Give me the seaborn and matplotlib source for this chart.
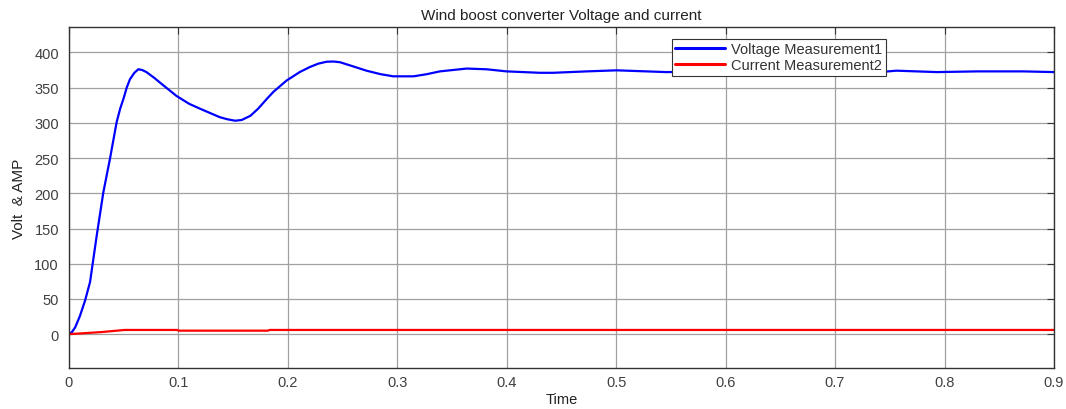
import matplotlib
matplotlib.use("Agg")
import matplotlib.pyplot as plt
import seaborn as sns
import pandas as pd

# ---- data ----
volt_t = [0, 0.003, 0.006, 0.0103, 0.0150, 0.0195, 0.0256, 0.0316, 0.0377, 0.0438,
          0.047, 0.05, 0.053, 0.056, 0.06, 0.0636, 0.067, 0.071, 0.078, 0.085,
          0.0986, 0.11, 0.12, 0.138, 0.145, 0.152, 0.158, 0.166, 0.173, 0.181,
          0.187, 0.193, 0.199, 0.205, 0.211, 0.22, 0.228, 0.2356, 0.242, 0.2478,
          0.26, 0.272, 0.285, 0.2964, 0.315, 0.327, 0.339, 0.3635, 0.3817, 0.40,
          0.4304, 0.4426, 0.473, 0.5005, 0.546, 0.6, 0.65, 0.7, 0.741, 0.756,
          0.793, 0.83, 0.872, 0.9]
volt_v = [0, 3, 10, 26, 48, 74, 140, 201, 249, 301,
          320, 334, 350, 362, 371, 376, 375, 372, 364, 355,
          338, 327, 320, 308, 305, 303, 304, 310, 320, 334,
          344, 352, 360, 366, 372, 379, 384, 386.7, 387, 386,
          380, 374, 369, 366, 366, 369, 373, 377, 376, 373,
          371, 371, 373, 374.5, 372, 373, 372, 373, 372, 374,
          372, 373, 373, 372]
curr_t = [0, 0.03, 0.051, 0.099, 0.1005, 0.182, 0.1835, 0.9]
curr_i = [0, 3, 6, 6, 5, 5, 6, 6]

x_ticks = [0, 0.1, 0.2, 0.3, 0.4, 0.5, 0.6, 0.7, 0.8, 0.9]
x_tick_labels = ["0", "0.1", "0.2", "0.3", "0.4", "0.5", "0.6", "0.7", "0.8", "0.9"]
y_ticks = [0, 50, 100, 150, 200, 250, 300, 350, 400]

title = "Wind boost converter Voltage and current"
x_label = "Time"
y_label = "Volt  & AMP"
series_names = ["Voltage Measurement1", "Current Measurement2"]

sns.set_style("white")
plt.rcParams["font.family"] = ["Liberation Sans", "DejaVu Sans"]

df_v = pd.DataFrame({"t": volt_t, "val": volt_v})
df_i = pd.DataFrame({"t": curr_t, "val": curr_i})

fig = plt.figure(figsize=(10.66, 4.10), dpi=100)
ax = fig.add_axes([68.7 / 1066, 1 - 369 / 410, (1054 - 68.7) / 1066, (369 - 28) / 410])

sns.lineplot(data=df_v, x="t", y="val", ax=ax, color="#0000ff", linewidth=1.6,
             estimator=None, sort=False, label=series_names[0])
sns.lineplot(data=df_i, x="t", y="val", ax=ax, color="#ff0000", linewidth=1.6,
             estimator=None, sort=False, label=series_names[1])

ax.set_xlim(0, 0.9)
ax.set_ylim(-48, 436)
ax.set_xticks(x_ticks)
ax.set_xticklabels(x_tick_labels)
ax.set_yticks(y_ticks)

ax.grid(True, color="#a0a0a0", linewidth=0.9)
ax.set_axisbelow(True)
for s in ax.spines.values():
    s.set_color("#333333")
    s.set_linewidth(1.0)
ax.tick_params(direction="in", length=5, width=0.8, colors="#333333",
               labelcolor="#404040", labelsize=10.5, top=True, right=True)
ax.tick_params(axis="x", pad=5)
ax.tick_params(axis="y", pad=7)

ax.set_title(title, fontsize=11, color="#222222", pad=6)
ax.set_xlabel(x_label, fontsize=10.5, color="#222222", labelpad=2)
ax.set_ylabel(y_label, fontsize=11, color="#222222", labelpad=6)

leg = ax.legend(loc="upper left", bbox_to_anchor=(0.612, 0.966), fontsize=10.5,
                frameon=True, fancybox=False, framealpha=1, edgecolor="#333333",
                handlelength=3.4, handletextpad=0.4, borderpad=0.25, labelspacing=0.15,
                borderaxespad=0)
leg.get_frame().set_linewidth(0.8)
for line in leg.get_lines():
    line.set_linewidth(2.2)
for t in leg.get_texts():
    t.set_color("#333333")

fig.savefig("out.png", dpi=100)
